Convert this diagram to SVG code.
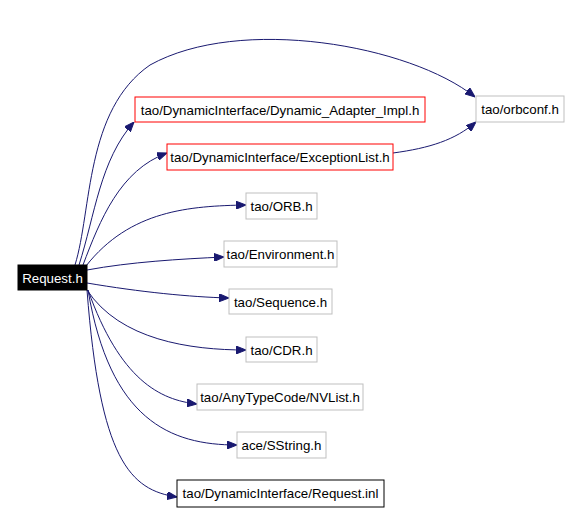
<svg xmlns="http://www.w3.org/2000/svg" width="576" height="511" viewBox="0 0 576 511">
<style>
.n rect{fill:#fff;stroke:#bfbfbf;stroke-width:1}
.n.red rect{stroke:#ff0000}
.n.blk rect{stroke:#000}
.n text{font-family:"Liberation Sans",Arial,sans-serif;font-size:13.3px;fill:#000;text-anchor:middle}
.e path{fill:none;stroke:#191970;stroke-width:1}
</style>
<defs>
<marker id="ah" viewBox="0 0 10 8" refX="10" refY="4" markerWidth="10" markerHeight="8" markerUnits="userSpaceOnUse" orient="auto">
<path d="M0,0 L10,4 L0,8 Z" fill="#191970" stroke="#191970"/>
</marker>
</defs>
<rect width="576" height="511" fill="#fff"/>
<g id="edges" class="e">
<path d="M75,265 C92,210 85,110 150,65 C240,15 410,45 475,97" marker-end="url(#ah)"/>
<path d="M79,265 C95,215 100,160 134,122" marker-end="url(#ah)"/>
<path d="M393,153 C430,148 455,140 476,122" marker-end="url(#ah)"/>
<path d="M83,265 C100,220 120,170 167,153" marker-end="url(#ah)"/>
<path d="M86,266 C130,210 190,206 246,205" marker-end="url(#ah)"/>
<path d="M87,270 C130,262 180,259 224,257" marker-end="url(#ah)"/>
<path d="M87,283 C140,292 190,297 229,298" marker-end="url(#ah)"/>
<path d="M87,290 C120,340 190,350 246,350" marker-end="url(#ah)"/>
<path d="M88,290 C120,380 160,400 197,404" marker-end="url(#ah)"/>
<path d="M88,290 C110,420 170,445 237,445" marker-end="url(#ah)"/>
<path d="M87,290 C100,460 130,490 177,497" marker-end="url(#ah)"/>
</g>
<g id="n_request_h" class="n"><rect x="18" y="265" width="69" height="25" style="fill:#000;stroke:#000"/><text x="52.5" y="282.5" style="fill:#fff">Request.h</text></g>
<g id="n_dai" class="n red"><rect x="135" y="97" width="290" height="25"/><text x="280" y="114.5">tao/DynamicInterface/Dynamic_Adapter_Impl.h</text></g>
<g id="n_exc" class="n red"><rect x="167" y="144" width="226" height="26"/><text x="280" y="162">tao/DynamicInterface/ExceptionList.h</text></g>
<g id="n_orbconf" class="n"><rect x="476" y="96" width="88" height="26"/><text x="520" y="114">tao/orbconf.h</text></g>
<g id="n_orb" class="n"><rect x="246" y="193" width="71" height="26"/><text x="281.5" y="211">tao/ORB.h</text></g>
<g id="n_env" class="n"><rect x="224" y="241" width="113" height="26"/><text x="280.5" y="259">tao/Environment.h</text></g>
<g id="n_seq" class="n"><rect x="229" y="289" width="103" height="25"/><text x="280.5" y="306.5">tao/Sequence.h</text></g>
<g id="n_cdr" class="n"><rect x="246" y="337" width="71" height="25"/><text x="281.5" y="354.5">tao/CDR.h</text></g>
<g id="n_nvlist" class="n"><rect x="197" y="384" width="166" height="26"/><text x="280" y="402">tao/AnyTypeCode/NVList.h</text></g>
<g id="n_sstring" class="n"><rect x="237" y="432" width="89" height="26"/><text x="281.5" y="450">ace/SString.h</text></g>
<g id="n_inl" class="n blk"><rect x="177" y="480" width="207" height="27"/><text x="280.5" y="498">tao/DynamicInterface/Request.inl</text></g>
</svg>
